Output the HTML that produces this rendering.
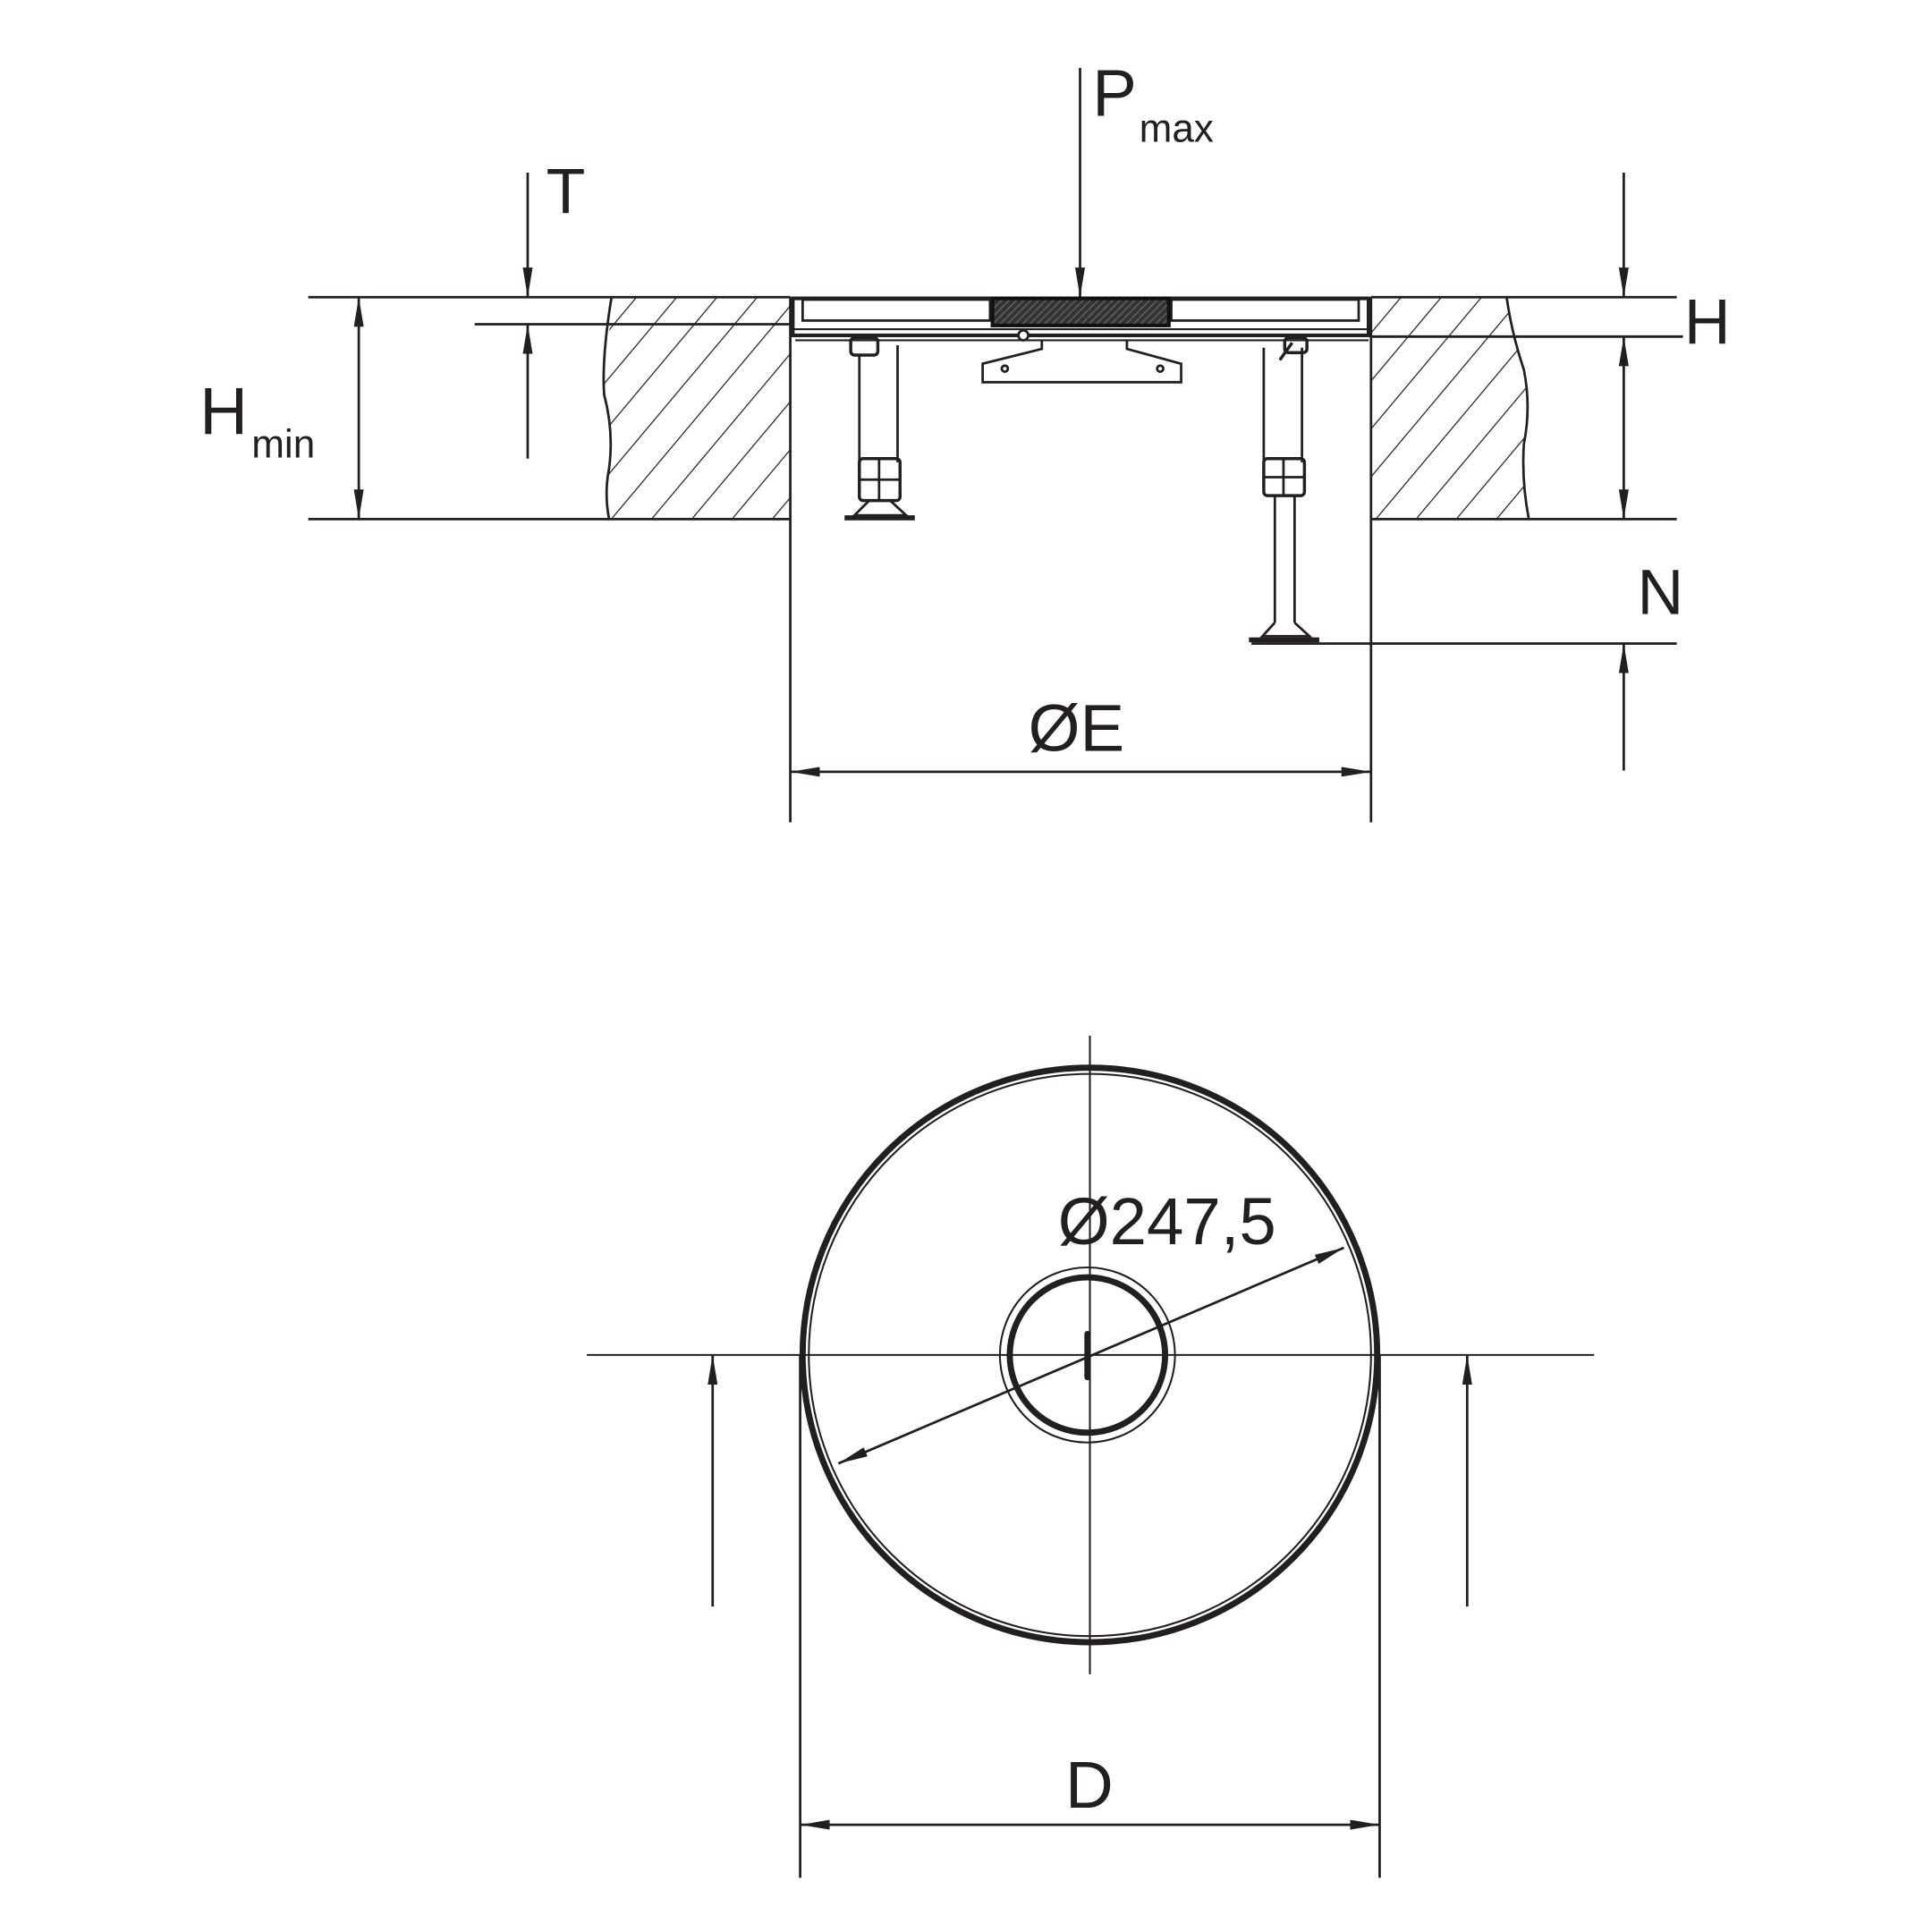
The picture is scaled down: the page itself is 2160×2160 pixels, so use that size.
<!DOCTYPE html>
<html><head><meta charset="utf-8"><style>
html,body{margin:0;padding:0;background:#fff}
svg{display:block}
text{font-family:"Liberation Sans",sans-serif;fill:#231f20}
</style></head><body>
<svg width="2160" height="2160" viewBox="0 0 1567 1567" xmlns="http://www.w3.org/2000/svg">
<defs>
<marker id="a" viewBox="0 0 24 8" refX="24" refY="4" markerWidth="24" markerHeight="8" markerUnits="userSpaceOnUse" orient="auto-start-reverse">
<path d="M0,0 L24,4 L0,8 Z" fill="#231f20"/></marker>
<pattern id="h" width="25" height="40" patternUnits="userSpaceOnUse" patternTransform="rotate(40)">
<line x1="0" y1="0" x2="0" y2="40" stroke="#231f20" stroke-width="1.8"/></pattern>
<clipPath id="cl"><path d="M492,241 L641,241 L641,421 L494,421 Q490,400 494,380 Q498,350 490,320 Q488,290 496,260 Z"/></clipPath>
<clipPath id="cr"><path d="M1112,241 L1222,241 Q1226,270 1236,300 Q1242,330 1236,360 Q1234,390 1240,421 L1112,421 Z"/></clipPath>
<pattern id="dk" width="6" height="6" patternUnits="userSpaceOnUse"><rect width="6" height="6" fill="#333"/><path d="M0,6 L6,0" stroke="#666" stroke-width="1"/></pattern>
</defs>
<g stroke="#231f20" fill="none" stroke-width="2">
<rect x="480" y="241" width="170" height="180" fill="url(#h)" clip-path="url(#cl)" stroke="none"/>
<rect x="1105" y="241" width="150" height="180" fill="url(#h)" clip-path="url(#cr)" stroke="none"/>
<path d="M496,241 Q488,290 490,320 Q498,350 494,380 Q490,400 494,421"/>
<path d="M1222,241 Q1226,270 1236,300 Q1242,330 1236,360 Q1234,390 1240,421"/>
<line x1="250" y1="241" x2="641" y2="241"/>
<line x1="1112" y1="241" x2="1360" y2="241"/>
<line x1="385" y1="263" x2="641" y2="263"/>
<line x1="1112" y1="273" x2="1365" y2="273"/>
<line x1="250" y1="421" x2="641" y2="421"/>
<line x1="1112" y1="421" x2="1360" y2="421"/>
<line x1="1015" y1="522" x2="1360" y2="522"/>
<line x1="641" y1="241" x2="641" y2="667"/>
<line x1="1112" y1="241" x2="1112" y2="667"/>
<line x1="428" y1="140" x2="428" y2="241" marker-end="url(#a)"/>
<line x1="428" y1="372" x2="428" y2="263" marker-end="url(#a)"/>
<line x1="291" y1="241" x2="291" y2="421" marker-start="url(#a)" marker-end="url(#a)"/>
<line x1="876" y1="55" x2="876" y2="241" marker-end="url(#a)"/>
<line x1="1317" y1="140" x2="1317" y2="241" marker-end="url(#a)"/>
<line x1="1317" y1="273" x2="1317" y2="421" marker-start="url(#a)" marker-end="url(#a)"/>
<line x1="1317" y1="625" x2="1317" y2="522" marker-end="url(#a)"/>
<line x1="641" y1="626" x2="1112" y2="626" marker-start="url(#a)" marker-end="url(#a)"/>
<rect x="643" y="242" width="467" height="30" stroke-width="3"/>
<rect x="651" y="243" width="152" height="17" stroke-width="2"/>
<rect x="950" y="243" width="152" height="17" stroke-width="2"/>
<rect x="805" y="242" width="143" height="22" fill="url(#dk)" stroke="#111" stroke-width="3"/>
<line x1="643" y1="267" x2="1110" y2="267" stroke-width="1.5"/>
<line x1="645" y1="276" x2="1110" y2="276" stroke-width="1.5"/>
<path d="M845,276 L845,283 L797,295 L797,310 L958,310 L958,295 L914,283 L914,276"/>
<circle cx="815" cy="299" r="2.5"/><circle cx="941" cy="299" r="2.5"/>
<circle cx="830" cy="272" r="4" fill="#fff"/>
<rect x="690" y="274" width="22" height="14" rx="3" stroke-width="2.5"/>
<line x1="697" y1="288" x2="697" y2="375"/><line x1="728" y1="280" x2="728" y2="375"/>
<rect x="697" y="372" width="33" height="34" rx="3" stroke-width="2.5"/>
<line x1="713" y1="372" x2="713" y2="406"/><line x1="697" y1="389" x2="730" y2="389"/>
<path d="M705,406 L693,418 L735,418 L722,406"/>
<line x1="685" y1="420" x2="742" y2="420" stroke-width="4"/>
<rect x="1042" y="274" width="18" height="12" rx="3" stroke-width="2.5"/>
<line x1="1048" y1="278" x2="1038" y2="292" stroke-width="2.5"/>
<line x1="1025" y1="282" x2="1025" y2="375"/><line x1="1056" y1="282" x2="1056" y2="375"/>
<rect x="1025" y="372" width="33" height="30" rx="3" stroke-width="2.5"/>
<line x1="1041" y1="372" x2="1041" y2="402"/><line x1="1025" y1="387" x2="1058" y2="387"/>
<line x1="1034" y1="402" x2="1034" y2="505"/><line x1="1050" y1="402" x2="1050" y2="505"/>
<path d="M1034,505 L1024,516 L1062,516 L1050,505"/>
<line x1="1013" y1="519" x2="1070" y2="519" stroke-width="4"/>
<circle cx="884" cy="1099" r="233" stroke-width="5"/>
<circle cx="884" cy="1099" r="228" stroke-width="1.5"/>
<circle cx="882" cy="1099" r="63" stroke-width="5"/>
<circle cx="882" cy="1099" r="71" stroke-width="1.5"/>
<line x1="884" y1="840" x2="884" y2="1358" stroke-width="1.5"/>
<line x1="476" y1="1099" x2="1293" y2="1099" stroke-width="1.5"/>
<line x1="882" y1="1082" x2="882" y2="1117" stroke-width="5" stroke-linecap="round"/>
<line x1="680" y1="1187" x2="1090" y2="1012" marker-start="url(#a)" marker-end="url(#a)"/>
<line x1="649" y1="1099" x2="649" y2="1523"/>
<line x1="1119" y1="1099" x2="1119" y2="1523"/>
<line x1="649" y1="1480" x2="1119" y2="1480" marker-start="url(#a)" marker-end="url(#a)"/>
<line x1="578" y1="1303" x2="578" y2="1099" marker-end="url(#a)"/>
<line x1="1190" y1="1303" x2="1190" y2="1099" marker-end="url(#a)"/>
</g>
<text x="443" y="173" font-size="52">T</text>
<text x="162" y="352" font-size="54">H</text><text x="204" y="371" font-size="32">min</text>
<text x="886" y="94" font-size="54">P</text><text x="924" y="115" font-size="32">max</text>
<text x="1366" y="279" font-size="52">H</text>
<text x="1328" y="498" font-size="52">N</text>
<text x="834" y="609" font-size="54">ØE</text>
<text x="858" y="1009" font-size="54">Ø247,5</text>
<text x="864" y="1466" font-size="54">D</text>
</svg>
</body></html>
